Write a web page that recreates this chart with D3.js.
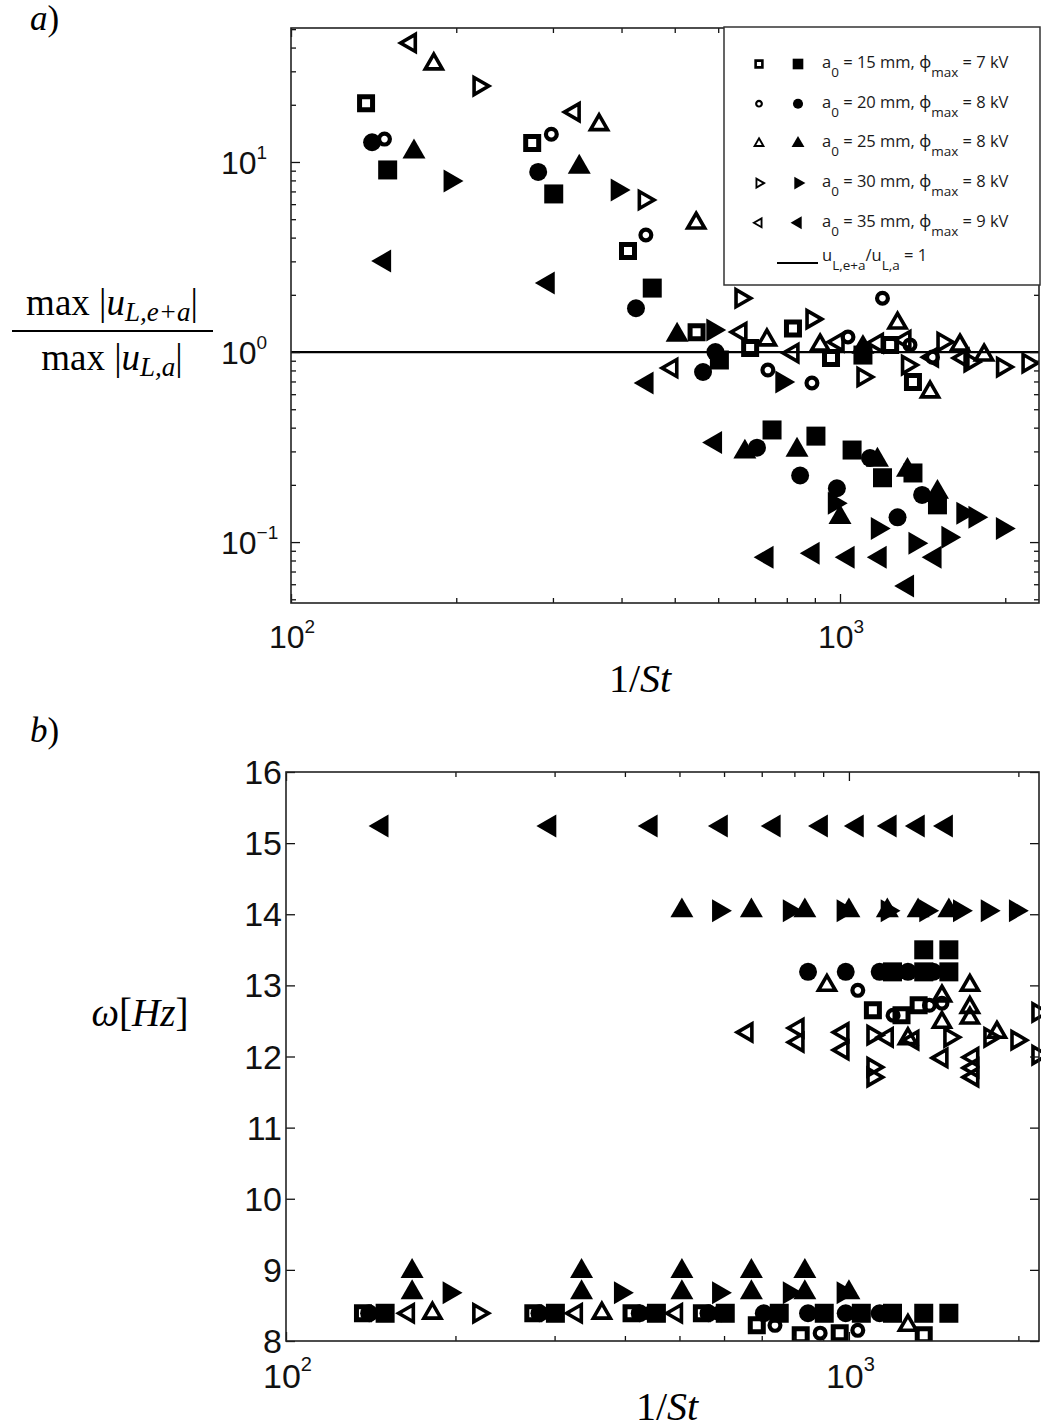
<!DOCTYPE html>
<html>
<head>
<meta charset="utf-8">
<script src="https://cdn.jsdelivr.net/npm/d3@7"></script>
<style>
  body { margin: 0; background: #fff; }
  svg { display: block; }
</style>
</head>
<body>
<svg id="fig" width="1041" height="1428"></svg>
<script>
// ---------- panel a: max|u_L,e+a| / max|u_L,a| against 1/St ----------
const a15Open   = [[137,20.4],[275,12.6],[411,3.40],[548,1.27],[686,1.05],[821,1.33],[963,0.93],[1234,1.09],[1358,0.695]];
const a15Filled = [[150,9.08],[301,6.79],[455,2.17],[603,0.908],[752,0.389],[904,0.361],[1052,0.305],[1101,0.964],[1195,0.218],[1358,0.231],[1505,0.157]];
const a20Open   = [[148,13.2],[298,14.0],[443,4.13],[739,0.804],[889,0.687],[1034,1.20],[1195,1.92],[1341,1.09],[1474,0.94]];
const a20Filled = [[140.5,12.7],[282,8.86],[425,1.70],[563,0.785],[593,1.0],[706,0.314],[846,0.224],[987,0.192],[1134,0.277],[1273,0.135],[1411,0.177]];
const a25Open   = [[182,32.8],[364,15.7],[547,4.77],[736,1.157],[920,1.088],[1273,1.42],[1459,0.616],[1654,1.088],[1830,0.964]];
const a25Filled = [[167.5,11.3],[335,9.41],[505,1.229],[671,0.298],[835,0.305],[1000,0.135],[1101,1.06],[1170,0.270],[1327,0.239],[1505,0.183]];
const a30Open   = [[220,25.1],[440,6.31],[660,1.92],[889,1.49],[1101,0.739],[1327,0.854],[1540,1.129],[1725,0.886],[1977,0.834],[2200,0.875]];
const a30Filled = [[195,7.94],[393,7.12],[587,1.306],[784,0.695],[977,0.160],[1170,0.118],[1370,0.0986],[1573,0.106],[1675,0.142],[1762,0.135],[1977,0.118]];
const a35Open   = [[165,42.3],[328,18.3],[494,0.824],[660,1.274],[821,0.988],[992,1.129],[1170,1.115],[1313,1.157],[1474,0.94],[1675,0.93]];
const a35Filled = [[148,3.01],[294,2.31],[445,0.687],[593,0.334],[736,0.0831],[893,0.0873],[1034,0.0831],[1183,0.0831],[1327,0.0588],[1489,0.0831]];

// ---------- panel b: frequency omega [Hz] against 1/St ----------
const b15Open   = [[137,8.39],[275,8.39],[411,8.39],[548,8.39],[686,8.22],[821,8.08],[963,8.11],[1358,8.08],[1103,12.65],[1240,12.58],[1330,12.72]];
const b15Filled = [[150,8.39],[301,8.39],[455,8.39],[603,8.39],[752,8.39],[904,8.39],[1052,8.39],[1195,8.39],[1358,8.39],[1505,8.39],[1358,13.50],[1505,13.50],[1195,13.19],[1358,13.19],[1505,13.19]];
const b20Open   = [[298,8.39],[443,8.39],[739,8.22],[889,8.11],[1037,8.15],[1037,12.93],[1198,12.58],[1390,12.72],[1463,12.75]];
const b20Filled = [[140.5,8.39],[282,8.39],[425,8.39],[563,8.39],[593,8.39],[706,8.39],[846,8.39],[987,8.39],[1134,8.39],[846,13.19],[987,13.19],[1134,13.19],[1273,13.19],[1411,13.19]];
const b25Open   = [[182,8.39],[364,8.39],[1273,8.22],[914,13.0],[1463,12.85],[1463,12.48],[1640,13.0],[1640,12.69],[1640,12.54],[1832,12.34],[1273,12.25]];
const b25Filled = [[167.5,8.98],[167.5,8.68],[335,8.98],[335,8.68],[505,8.98],[505,8.68],[671,8.98],[671,8.68],[835,8.98],[835,8.68],[1000,8.68],
                   [505,14.05],[671,14.05],[835,14.05],[1000,14.05],[1170,14.05],[1327,14.05],[1505,14.05]];
const b30Open   = [[220,8.39],[1103,12.30],[1103,11.85],[1103,11.71],[1511,12.27],[1780,12.27],[1988,12.23],[2166,12.62],[2166,12.02]];
const b30Filled = [[195,8.68],[393,8.68],[587,8.68],[784,8.68],[977,8.68],
                   [587,14.05],[784,14.05],[977,14.05],[1170,14.05],[1370,14.05],[1573,14.05],[1762,14.05],[1977,14.05]];
const b35Open   = [[165,8.39],[328,8.39],[494,8.39],[659,12.34],[812,12.40],[812,12.20],[976,12.34],[976,12.09],[1170,12.27],[1299,12.23],[1463,11.98],[1660,11.99],[1660,11.84],[1660,11.71]];
const b35Filled = [[148,15.24],[294,15.24],[445,15.24],[593,15.24],[736,15.24],[893,15.24],[1034,15.24],[1183,15.24],[1327,15.24],[1489,15.24]];

// ---------- legend and ticks ----------
const legendRadius = ["15", "20", "25", "30", "35"];
const legendVolt   = ["7", "8", "8", "8", "9"];
const seriesShape  = ["square", "circle", "up", "right", "left"];

const logMajorX  = [100, 1000];
const logMinorX  = [200, 300, 400, 500, 600, 700, 800, 900, 2000];
const xTickExp   = ["2", "3"];
const aMajorY    = [0.1, 1, 10];
const aMinorY    = [0.05, 0.06, 0.07, 0.08, 0.09, 0.2, 0.3, 0.4, 0.5, 0.6, 0.7, 0.8, 0.9,
                    2, 3, 4, 5, 6, 7, 8, 9, 20, 30, 40, 50];
const aYTickExp  = ["\u22121", "0", "1"];
const bTicksY    = [8, 9, 10, 11, 12, 13, 14, 15, 16];
const refRatio   = 1;

// ---------- layout ----------
const svg = d3.select("#fig");
const ink = "#111";

const A = { left: 291, right: 1039, top: 28, bottom: 603 };
const B = { left: 286, right: 1039, top: 772, bottom: 1341 };

const xA = d3.scaleLog().domain([100, 2304]).range([A.left, A.right]);
const yA = d3.scaleLog().domain([0.0478, 50.7]).range([A.bottom, A.top]);
const xB = d3.scaleLog().domain([100, 2176]).range([B.left, B.right]);
const yB = d3.scaleLinear().domain([8, 16]).range([B.bottom, B.top]);

const shapeDef = {
  square: { type: d3.symbolSquare,   rot: 0,   fill: 361, open: 169, ow: 5.0 },
  circle: { type: d3.symbolCircle,   rot: 0,   fill: 254, open: 92,  ow: 4.2 },
  up:     { type: d3.symbolTriangle, rot: 0,   fill: 229, open: 125, ow: 3.6 },
  right:  { type: d3.symbolTriangle, rot: 90,  fill: 229, open: 125, ow: 3.6 },
  left:   { type: d3.symbolTriangle, rot: -90, fill: 229, open: 125, ow: 3.6 }
};

function drawMarkers(g, data, shape, filled, xs, ys, scale = 1) {
  const d = shapeDef[shape];
  const gen = d3.symbol().type(d.type).size((filled ? d.fill : d.open) * scale * scale);
  g.selectAll(null).data(data).enter().append("path")
    .attr("d", gen())
    .attr("transform", p => `translate(${xs(p[0])},${ys(p[1])}) rotate(${d.rot})`)
    .attr("fill", filled ? "#000" : "none")
    .attr("stroke", filled ? "none" : "#000")
    .attr("stroke-width", filled ? 0 : d.ow * scale)
    .attr("stroke-linejoin", "miter");
}

function frameAndTicks(P, xs, ys, xMajor, xMinor, yMajor, yMinor) {
  const g = svg.append("g").attr("color", ink);
  const ax = (axis, tx, ty, vals, len) => {
    const a = g.append("g").attr("transform", `translate(${tx},${ty})`)
      .call(axis.tickValues(vals).tickSize(-len).tickFormat(""));
    a.select(".domain").remove();
    a.selectAll("line").attr("stroke-width", 1.3);
  };
  ax(d3.axisBottom(xs), 0, P.bottom, xMinor, 5);
  ax(d3.axisBottom(xs), 0, P.bottom, xMajor, 9);
  ax(d3.axisTop(xs),    0, P.top,    xMinor, 5);
  ax(d3.axisTop(xs),    0, P.top,    xMajor, 9);
  ax(d3.axisLeft(ys),   P.left, 0,   yMinor, 5);
  ax(d3.axisLeft(ys),   P.left, 0,   yMajor, 9);
  ax(d3.axisRight(ys),  P.right, 0,  yMinor, 5);
  ax(d3.axisRight(ys),  P.right, 0,  yMajor, 9);
  g.append("rect")
    .attr("x", P.left).attr("y", P.top)
    .attr("width", P.right - P.left).attr("height", P.bottom - P.top)
    .attr("fill", "none").attr("stroke", "#222").attr("stroke-width", 1.6);
}

function powerLabel(x, y, exp, size, supSize, supRise) {
  const t = svg.append("text")
    .attr("x", x).attr("y", y)
    .attr("font-family", "'Liberation Sans', Arial, sans-serif")
    .attr("font-size", size).attr("fill", ink);
  t.append("tspan").text("10");
  t.append("tspan").attr("dy", -supRise).attr("font-size", supSize).text(exp);
}

const serif = "'Liberation Serif', 'DejaVu Serif', serif";
const legendFont = "'Open Sans', 'Noto Sans', sans-serif";

// ================= panel a =================
const gA = svg.append("g");
const clipA = svg.append("clipPath").attr("id", "clipA");
clipA.append("rect").attr("x", A.left).attr("y", A.top)
  .attr("width", A.right - A.left).attr("height", A.bottom - A.top);
gA.attr("clip-path", "url(#clipA)");

// reference line u_L,e+a / u_L,a = 1
gA.append("line")
  .attr("x1", A.left).attr("x2", A.right)
  .attr("y1", yA(refRatio)).attr("y2", yA(refRatio))
  .attr("stroke", "#000").attr("stroke-width", 2.2);

const panelA = [
  [a15Open, a15Filled], [a20Open, a20Filled], [a25Open, a25Filled],
  [a30Open, a30Filled], [a35Open, a35Filled]
];
panelA.forEach((pair, i) => {
  drawMarkers(gA, pair[0], seriesShape[i], false, xA, yA);
  drawMarkers(gA, pair[1], seriesShape[i], true,  xA, yA);
});

frameAndTicks(A, xA, yA, logMajorX, logMinorX, aMajorY, aMinorY);

// y tick labels
aMajorY.forEach((v, i) => powerLabel(221, yA(v) + 12, aYTickExp[i], 32, 19, 15));
// x tick labels
logMajorX.forEach((v, i) => powerLabel(xA(v) - 22, 648, xTickExp[i], 32, 19, 15));

// legend
const LG = { x: 724, y: 27, w: 316, h: 258 };
svg.append("rect").attr("x", LG.x).attr("y", LG.y).attr("width", LG.w).attr("height", LG.h)
  .attr("fill", "#fff").attr("stroke", "#333").attr("stroke-width", 1.5);

const legendRows = legendRadius.map((r, i) => ({ r, v: legendVolt[i], shape: seriesShape[i], y: 64 + i * 39.7 }));
const legendG = svg.append("g");
const legX = d3.scaleLinear().domain([0, 1]).range([759, 798]);
legendRows.forEach(row => {
  const ys = () => row.y;
  drawMarkers(legendG, [[0, 0]], row.shape, false, legX, ys, 0.52);
  drawMarkers(legendG, [[1, 0]], row.shape, true,  legX, ys, 0.56);
  const t = legendG.append("text")
    .attr("x", 822).attr("y", row.y + 4)
    .attr("font-family", legendFont)
    .attr("font-size", 16.5).attr("fill", "#1a1a1a");
  t.append("tspan").text("a");
  t.append("tspan").attr("dy", 9).attr("font-size", 13.5).text("0");
  t.append("tspan").attr("dy", -9).text(` = ${row.r} mm, \u03D5`);
  t.append("tspan").attr("dy", 9).attr("font-size", 13.5).text("max");
  t.append("tspan").attr("dy", -9).text(` = ${row.v} kV`);
});
legendG.append("line").attr("x1", 777).attr("x2", 818).attr("y1", 263).attr("y2", 263)
  .attr("stroke", "#000").attr("stroke-width", 2.2);
{
  const t = legendG.append("text").attr("x", 822).attr("y", 261)
    .attr("font-family", legendFont)
    .attr("font-size", 16.5).attr("fill", "#1a1a1a");
  t.append("tspan").text("u");
  t.append("tspan").attr("dy", 9).attr("font-size", 13.5).text("L,e+a");
  t.append("tspan").attr("dy", -9).text("/u");
  t.append("tspan").attr("dy", 9).attr("font-size", 13.5).text("L,a");
  t.append("tspan").attr("dy", -9).text(" = 1");
}

// panel a titles
{
  const t = svg.append("text").attr("x", 30).attr("y", 30)
    .attr("font-family", serif).attr("font-size", 35).attr("fill", "#000");
  t.append("tspan").attr("font-style", "italic").text("a");
  t.append("tspan").text(")");

  // fraction label on the y axis
  const num = svg.append("text").attr("x", 112).attr("y", 315).attr("text-anchor", "middle")
    .attr("font-family", serif).attr("font-size", 37).attr("fill", "#000");
  num.append("tspan").text("max |");
  num.append("tspan").attr("font-style", "italic").text("u");
  num.append("tspan").attr("font-style", "italic").attr("font-size", 27).attr("dy", 6).text("L,e+a");
  num.append("tspan").attr("dy", -6).text("|");
  svg.append("line").attr("x1", 12).attr("x2", 213).attr("y1", 331).attr("y2", 331)
    .attr("stroke", "#000").attr("stroke-width", 2);
  const den = svg.append("text").attr("x", 112).attr("y", 370).attr("text-anchor", "middle")
    .attr("font-family", serif).attr("font-size", 37).attr("fill", "#000");
  den.append("tspan").text("max |");
  den.append("tspan").attr("font-style", "italic").text("u");
  den.append("tspan").attr("font-style", "italic").attr("font-size", 27).attr("dy", 6).text("L,a");
  den.append("tspan").attr("dy", -6).text("|");

  const xl = svg.append("text").attr("x", 640).attr("y", 692).attr("text-anchor", "middle")
    .attr("font-family", serif).attr("font-size", 40).attr("fill", "#000");
  xl.append("tspan").text("1/");
  xl.append("tspan").attr("font-style", "italic").text("St");
}

// ================= panel b =================
const gB = svg.append("g");
const clipB = svg.append("clipPath").attr("id", "clipB");
clipB.append("rect").attr("x", B.left).attr("y", B.top)
  .attr("width", B.right - B.left + 2).attr("height", B.bottom - B.top);
gB.attr("clip-path", "url(#clipB)");

const panelB = [
  [b15Open, b15Filled], [b20Open, b20Filled], [b25Open, b25Filled],
  [b30Open, b30Filled], [b35Open, b35Filled]
];
panelB.forEach((pair, i) => {
  drawMarkers(gB, pair[0], seriesShape[i], false, xB, yB);
  drawMarkers(gB, pair[1], seriesShape[i], true,  xB, yB);
});

frameAndTicks(B, xB, yB, logMajorX, logMinorX, bTicksY, []);

bTicksY.forEach(v => {
  svg.append("text").attr("x", 282).attr("y", yB(v) + 12).attr("text-anchor", "end")
    .attr("font-family", "'Liberation Sans', Arial, sans-serif")
    .attr("font-size", 34).attr("fill", ink).text(v);
});
logMajorX.forEach((v, i) => powerLabel(xB(v) - 23, 1388, xTickExp[i], 34, 20, 17));

{
  const t = svg.append("text").attr("x", 30).attr("y", 742)
    .attr("font-family", serif).attr("font-size", 35).attr("fill", "#000");
  t.append("tspan").attr("font-style", "italic").text("b");
  t.append("tspan").text(")");

  const yl = svg.append("text").attr("x", 140).attr("y", 1026).attr("text-anchor", "middle")
    .attr("font-family", serif).attr("font-size", 39).attr("fill", "#000");
  yl.append("tspan").attr("font-style", "italic").text("\u03C9");
  yl.append("tspan").text("[");
  yl.append("tspan").attr("font-style", "italic").text("Hz");
  yl.append("tspan").text("]");

  const xl = svg.append("text").attr("x", 667).attr("y", 1420).attr("text-anchor", "middle")
    .attr("font-family", serif).attr("font-size", 40).attr("fill", "#000");
  xl.append("tspan").text("1/");
  xl.append("tspan").attr("font-style", "italic").text("St");
}
</script>
</body>
</html>
